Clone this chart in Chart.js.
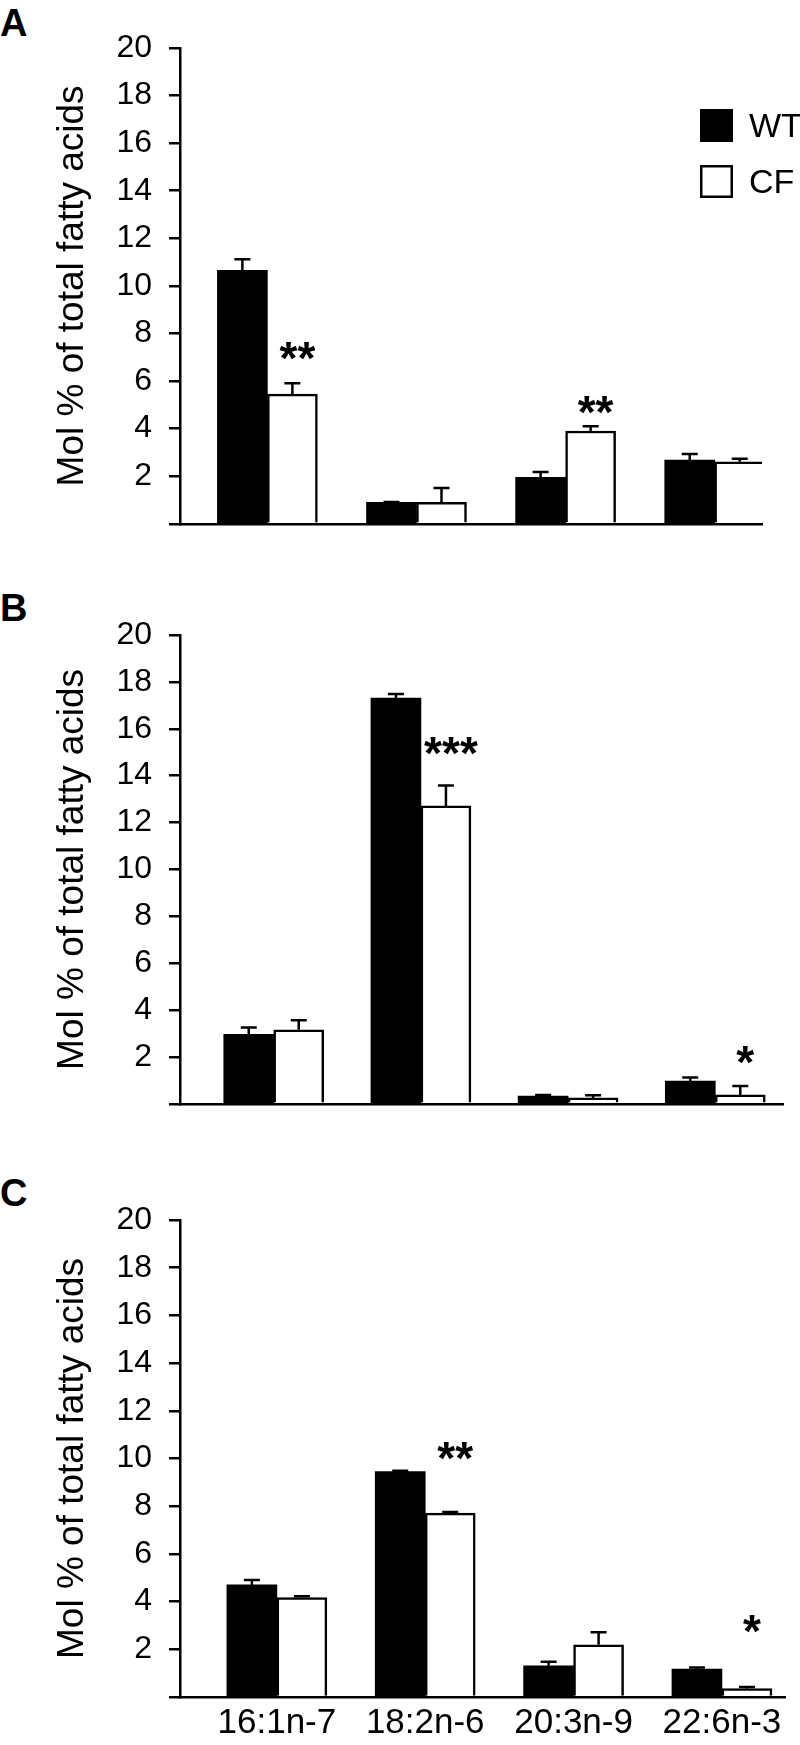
<!DOCTYPE html>
<html>
<head>
<meta charset="utf-8">
<script src="https://cdn.jsdelivr.net/npm/chart.js@4.4.1/dist/chart.umd.min.js"></script>
<style>
  body { margin: 0; background: #fff; }
  #fig { position: relative; width: 800px; height: 1745px; font-family: "Liberation Sans", Arial, sans-serif; }
  #fig canvas { position: absolute; left: 0; }
  .letter { position: absolute; left: 0px; font-weight: bold; font-size: 38px; line-height: 38px; color: #000; }
</style>
</head>
<body>
<div id="fig">
  <div class="letter" style="top:4px">A</div>
  <div class="letter" style="top:589px">B</div>
  <div class="letter" style="top:1174px">C</div>
  <canvas id="chartA" width="800" height="560" style="top:0px"></canvas>
  <canvas id="chartB" width="800" height="560" style="top:580px"></canvas>
  <canvas id="chartC" width="800" height="585" style="top:1160px"></canvas>
</div>
<script>
// fatty acids on the x axis
const categories = ['16:1n-7', '18:2n-6', '20:3n-9', '22:6n-3'];
const seriesNames = ['WT', 'CF'];
const yTitle = 'Mol % of total fatty acids';

// panel A
const wtA = [10.65, 0.9, 1.95, 2.68];
const wtErrA = [0.47, 0.02, 0.23, 0.25];
const cfA = [5.45, 0.9, 3.9, 2.61];
const cfErrA = [0.46, 0.6, 0.2, 0.12];
const starsA = ['**', '', '**', ''];
const starLevelA = [7.38, null, 5.13, null];

// panel B
const wtB = [2.96, 17.31, 0.33, 0.97];
const wtErrB = [0.3, 0.17, 0.05, 0.15];
const cfB = [3.16, 12.71, 0.25, 0.38];
const cfErrB = [0.4, 0.87, 0.12, 0.38];
const starsB = ['', '***', '', '*'];
const starLevelB = [null, 15.38, null, 2.21];

// panel C
const wtC = [4.7, 9.45, 1.31, 1.17];
const wtErrC = [0.21, 0.04, 0.17, 0.07];
const cfC = [4.17, 7.71, 2.19, 0.35];
const cfErrC = [0.05, 0.05, 0.52, 0.07];
const starsC = ['', '**', '', '*'];
const starLevelC = [null, 10.44, null, 3.17];

Chart.defaults.font.family = '"Liberation Sans", Arial, sans-serif';
Chart.defaults.color = '#000';

// T-shaped error bars on top of each bar
const errorBars = {
  id: 'errorBars',
  afterDatasetsDraw(chart) {
    const ctx = chart.ctx;
    const y = chart.scales.y;
    ctx.save();
    ctx.strokeStyle = '#000';
    ctx.lineWidth = 2.5;
    chart.data.datasets.forEach((ds, di) => {
      chart.getDatasetMeta(di).data.forEach((bar, i) => {
        const top = y.getPixelForValue(ds.data[i].y + ds.errors[i]);
        ctx.beginPath();
        ctx.moveTo(bar.x, bar.y);
        ctx.lineTo(bar.x, top);
        ctx.moveTo(bar.x - 8, top);
        ctx.lineTo(bar.x + 8, top);
        ctx.stroke();
      });
    });
    ctx.restore();
  }
};

// significance asterisks above the CF bars
const stars = {
  id: 'stars',
  afterDatasetsDraw(chart, args, opts) {
    const ctx = chart.ctx;
    const y = chart.scales.y;
    const cfBars = chart.getDatasetMeta(1).data;
    ctx.save();
    ctx.fillStyle = '#000';
    ctx.font = 'bold 46px "Liberation Sans", Arial, sans-serif';
    ctx.textAlign = 'center';
    ctx.textBaseline = 'alphabetic';
    opts.marks.forEach((m, i) => {
      if (!m) return;
      ctx.fillText(m, cfBars[i].x + 5, y.getPixelForValue(opts.levels[i]) + 26);
    });
    ctx.restore();
  }
};

// boxed legend inside panel A
const boxLegend = {
  id: 'boxLegend',
  afterDraw(chart, args, opts) {
    if (!opts.show) return;
    const ctx = chart.ctx;
    ctx.save();
    ctx.font = '34px "Liberation Sans", Arial, sans-serif';
    ctx.textBaseline = 'middle';
    ctx.textAlign = 'left';
    chart.data.datasets.forEach((ds, i) => {
      const top = opts.y + i * opts.gap;
      ctx.fillStyle = ds.backgroundColor;
      ctx.fillRect(opts.x, top, opts.box, opts.box);
      ctx.strokeStyle = '#000';
      ctx.lineWidth = 2.5;
      ctx.strokeRect(opts.x + 1.25, top + 1.25, opts.box - 2.5, opts.box - 2.5);
      ctx.fillStyle = '#000';
      ctx.fillText(ds.label, opts.x + opts.box + 16, top + opts.box / 2 + 2);
    });
    ctx.restore();
  }
};

function makePanel(id, wt, wtErr, cf, cfErr, marks, levels, layout) {
  new Chart(document.getElementById(id), {
    type: 'bar',
    data: {
      datasets: [
        {
          label: seriesNames[0],
          data: wt.map((v, i) => ({ x: i, y: v })),
          errors: wtErr,
          backgroundColor: '#000',
          borderWidth: 0
        },
        {
          label: seriesNames[1],
          data: cf.map((v, i) => ({ x: i, y: v })),
          errors: cfErr,
          backgroundColor: '#fff',
          borderColor: '#000',
          borderWidth: 2.5
        }
      ]
    },
    options: {
      responsive: false,
      animation: false,
      events: [],
      barThickness: 50,
      layout: { padding: layout.padding },
      plugins: {
        legend: { display: false },
        tooltip: { enabled: false },
        stars: { marks: marks, levels: levels },
        boxLegend: { show: layout.legend, x: 700, y: 109, box: 33, gap: 56 }
      },
      scales: {
        x: {
          type: 'linear',
          offset: false,
          min: layout.xMin,
          max: layout.xMax,
          z: 1,
          grid: { display: false, drawTicks: false },
          border: { display: true, color: '#000', width: 2.5 },
          afterBuildTicks: s => { s.ticks = categories.map((c, i) => ({ value: i })); },
          afterFit: s => { s.height = layout.xHeight; },
          ticks: {
            display: layout.showLabels,
            padding: 5,
            maxRotation: 0,
            autoSkip: false,
            font: { size: 35 },
            callback: v => categories[v]
          }
        },
        y: {
          min: 0,
          max: 20,
          z: 1,
          afterFit: s => { s.width = 180; },
          grid: { drawOnChartArea: false, drawTicks: true, tickLength: 11, color: '#000', lineWidth: 2.5 },
          border: { display: true, color: '#000', width: 2.5 },
          ticks: {
            stepSize: 2,
            padding: 17,
            font: { size: 32 },
            callback: v => (v === 0 ? '' : v)
          },
          title: {
            display: true,
            text: yTitle,
            font: { size: 37 },
            padding: { top: 51, bottom: 0 }
          }
        }
      }
    },
    plugins: [errorBars, stars, boxLegend]
  });
}

makePanel('chartA', wtA, wtErrA, cfA, cfErrA, starsA, starLevelA,
  { padding: { top: 48, right: 38, bottom: 21, left: 0 }, xMin: -0.586, xMax: 3.317, xHeight: 0, showLabels: false, legend: true });
makePanel('chartB', wtB, wtErrB, cfB, cfErrB, starsB, starLevelB,
  { padding: { top: 55, right: 17, bottom: 16, left: 0 }, xMin: -0.637, xMax: 3.46, xHeight: 0, showLabels: false, legend: false });
makePanel('chartC', wtC, wtErrC, cfC, cfErrC, starsC, starLevelC,
  { padding: { top: 60, right: 15, bottom: 0, left: 0 }, xMin: -0.653, xMax: 3.425, xHeight: 48, showLabels: true, legend: false });
</script>
</body>
</html>
